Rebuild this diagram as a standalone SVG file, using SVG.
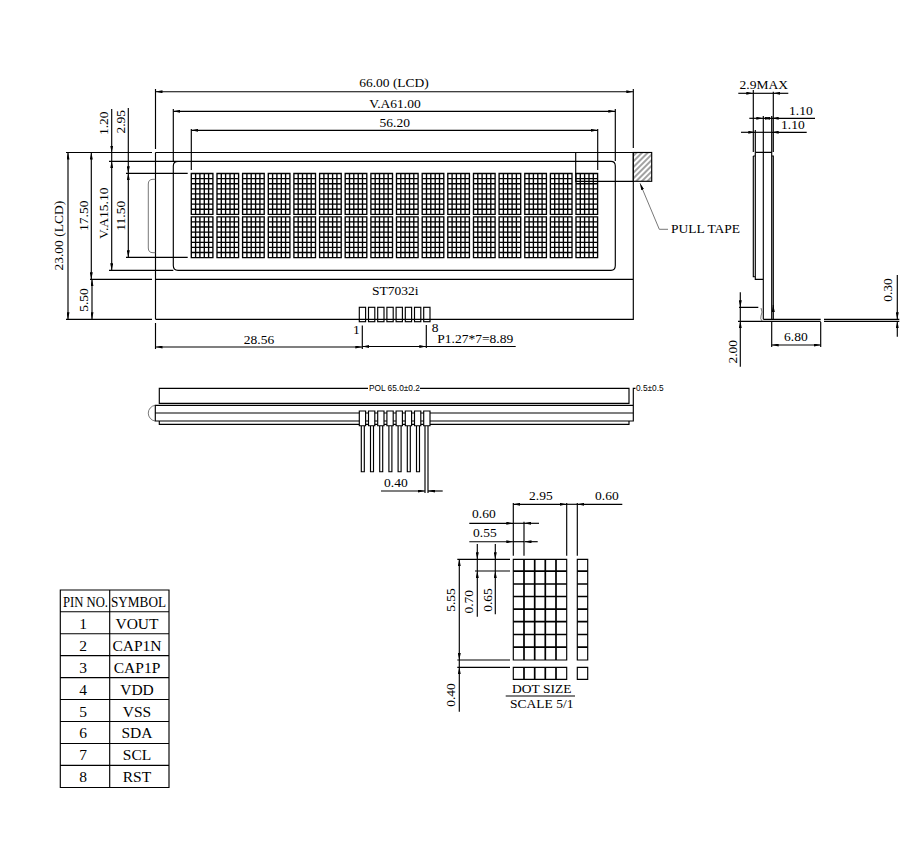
<svg xmlns="http://www.w3.org/2000/svg" xmlns:xlink="http://www.w3.org/1999/xlink" width="919" height="846" viewBox="0 0 919 846">
<style>
text{font-family:"Liberation Serif","Times New Roman",serif;font-size:13.5px;fill:#000}
.m{text-anchor:middle}
.s{font-family:"Liberation Sans",Arial,sans-serif;font-size:8.3px}
.t{font-size:15.5px;text-anchor:middle}
.h{font-size:14px}
line,path,rect{fill:none;stroke:#000;stroke-width:1.15}
.d{marker-end:url(#a);marker-start:url(#a)}
.e{marker-end:url(#a)}
.g{stroke:#555;stroke-width:.8}
.b{stroke-width:1.7}
.c{stroke-width:1.35}
</style>
<defs>
<marker id="a" viewBox="0 0 7 3" refX="7" refY="1.5" markerWidth="7" markerHeight="3" orient="auto-start-reverse" markerUnits="userSpaceOnUse"><path d="M0 0L7 1.5L0 3z" style="fill:#000;stroke:none"/></marker>
<pattern id="hatch" patternUnits="userSpaceOnUse" width="4" height="4" patternTransform="rotate(-45)"><line x1="0" y1="2" x2="4" y2="2" style="stroke:#444;stroke-width:1"/></pattern>
<g id="ch"><path class="c" d="M0 0H21.6V40.8H0ZM4.3 0V40.8M8.6 0V40.8M13 0V40.8M17.3 0V40.8M0 5.1H21.6M0 10.2H21.6M0 15.3H21.6M0 20.4H21.6M0 25.5H21.6M0 30.6H21.6M0 35.7H21.6"/></g>
</defs>

<g id="front-view">
<g id="outline">
<path d="M66 152.5H152M155.5 152.5H651.7M66 319.3H152M155.5 319.3H633.3V152.5M90 279.3H152M155.5 279.3H633.3M155.5 152.5V319.3"/>
<path d="M109 161.3H611Q615.3 161.3 615.3 166V265.5Q615.3 270.3 611 270.3H178Q173.3 270.3 173.3 265.5V166Q173.3 161.3 178 161.3"/>
<path d="M109 270.3H173.3M126 173.3H187.7M126 257.3H187.7"/>
<path class="g" d="M155.5 179.3H153Q148.3 179.3 148.3 184V248Q148.3 252.7 153 252.7H155.5"/>
</g>
<g id="display-chars">
<use href="#ch" x="191.3" y="173.5"/><use href="#ch" x="217" y="173.5"/><use href="#ch" x="242.6" y="173.5"/><use href="#ch" x="268.3" y="173.5"/><use href="#ch" x="293.9" y="173.5"/><use href="#ch" x="319.6" y="173.5"/><use href="#ch" x="345.2" y="173.5"/><use href="#ch" x="370.9" y="173.5"/><use href="#ch" x="396.5" y="173.5"/><use href="#ch" x="422.2" y="173.5"/><use href="#ch" x="447.8" y="173.5"/><use href="#ch" x="473.5" y="173.5"/><use href="#ch" x="499.1" y="173.5"/><use href="#ch" x="524.8" y="173.5"/><use href="#ch" x="550.4" y="173.5"/><use href="#ch" x="576" y="173.5"/>
<use href="#ch" x="191.3" y="216.8"/><use href="#ch" x="217" y="216.8"/><use href="#ch" x="242.6" y="216.8"/><use href="#ch" x="268.3" y="216.8"/><use href="#ch" x="293.9" y="216.8"/><use href="#ch" x="319.6" y="216.8"/><use href="#ch" x="345.2" y="216.8"/><use href="#ch" x="370.9" y="216.8"/><use href="#ch" x="396.5" y="216.8"/><use href="#ch" x="422.2" y="216.8"/><use href="#ch" x="447.8" y="216.8"/><use href="#ch" x="473.5" y="216.8"/><use href="#ch" x="499.1" y="216.8"/><use href="#ch" x="524.8" y="216.8"/><use href="#ch" x="550.4" y="216.8"/><use href="#ch" x="576" y="216.8"/>
</g>
<g id="pull-tape">
<rect x="633.3" y="152.5" width="18.4" height="28.8" style="fill:url(#hatch)"/>
<path d="M575.7 152.5V181.3H633.3"/>
<path class="g" d="M659.3 229.3H668"/>
<line class="g e" x1="659.3" y1="229.3" x2="640" y2="183.3"/>
<text x="671" y="233">PULL TAPE</text>
</g>
<g id="pins-front">
<rect x="359.3" y="307.3" width="6.3" height="14.4"/><rect x="368.5" y="307.3" width="6.3" height="14.4"/><rect x="377.7" y="307.3" width="6.3" height="14.4"/><rect x="386.9" y="307.3" width="6.3" height="14.4"/><rect x="396.1" y="307.3" width="6.3" height="14.4"/><rect x="405.3" y="307.3" width="6.3" height="14.4"/><rect x="414.5" y="307.3" width="6.3" height="14.4"/><rect x="423.7" y="307.3" width="6.3" height="14.4"/>
<text x="372" y="294.5">ST7032i</text>
</g>
<g id="front-dims">
<path d="M155.5 89V149M173.3 109V161M615.3 109V161M191.3 129V170M597.7 129V170M633.3 89V148M155.5 323V349M362.3 325.6V349M426.3 325V348"/>
<line class="d" x1="155.5" y1="91.7" x2="633.3" y2="91.7"/>
<line class="d" x1="173.3" y1="111.3" x2="615.3" y2="111.3"/>
<line class="d" x1="191.3" y1="130.3" x2="597.7" y2="130.3"/>
<line class="d" x1="155.5" y1="347" x2="362.3" y2="347"/>
<line class="d" x1="362.3" y1="346.5" x2="426.3" y2="346.5"/>
<line x1="426.3" y1="346.5" x2="515.7" y2="346.5"/>
<line class="d" x1="68" y1="152.5" x2="68" y2="319.3"/>
<line class="d" x1="91.3" y1="152.5" x2="91.3" y2="279.3"/>
<line class="d" x1="92" y1="279.3" x2="92" y2="319.3"/>
<line class="e" x1="111.7" y1="109" x2="111.7" y2="152.5"/>
<line x1="111.7" y1="152.5" x2="111.7" y2="161.3"/>
<line class="d" x1="111.7" y1="161.3" x2="111.7" y2="270.3"/>
<line class="e" x1="128.3" y1="108" x2="128.3" y2="173.3"/>
<line class="d" x1="128.3" y1="173.3" x2="128.3" y2="257.3"/>
<text class="m" x="394" y="86.5">66.00 (LCD)</text>
<text class="m" x="395" y="108">V.A61.00</text>
<text class="m" x="394.7" y="127">56.20</text>
<text class="m" x="259" y="344">28.56</text>
<text x="353" y="334">1</text>
<text x="431.7" y="332">8</text>
<text x="437.3" y="343.3">P1.27*7=8.89</text>
<text class="m" transform="translate(62.7 235.7) rotate(-90)">23.00 (LCD)</text>
<text class="m" transform="translate(88 215.7) rotate(-90)">17.50</text>
<text class="m" transform="translate(88.3 300) rotate(-90)">5.50</text>
<text class="m" transform="translate(108 213.3) rotate(-90)">V.A15.10</text>
<text class="m" transform="translate(108 123.3) rotate(-90)">1.20</text>
<text class="m" transform="translate(125 121.7) rotate(-90)">2.95</text>
<text class="m" transform="translate(125 215.7) rotate(-90)">11.50</text>
</g>
</g>

<g id="side-view">
<path d="M755.3 152.3H771.7V320M755.3 152.3V279.3H763.3M763.3 152.3V319.3M753.3 156H755.3M753.3 156V276.7H755.3M771.7 156H773.3V320"/>
<path d="M763.3 319.3H820.7M824 319.3H899.3M738 321.3H820.7M824 321.3H899.3"/>
<path class="g" d="M761 308Q763 312 761 316Q760 319 762 321"/>
<path d="M753.3 90V152M773.3 91.7V152M763.3 116V152M771.7 116V152M755.3 130V152M771.7 321V347M820.7 322V347M739 307.3H758.3"/>
<line class="e" x1="738.3" y1="93.3" x2="753.3" y2="93.3"/>
<line x1="753.3" y1="93.3" x2="773.3" y2="93.3"/>
<line class="e" x1="788.3" y1="93.3" x2="773.3" y2="93.3"/>
<line class="d" x1="763.3" y1="118.3" x2="771.7" y2="118.3"/>
<line class="e" x1="815" y1="118.3" x2="771.7" y2="118.3"/>
<line class="e" x1="749.3" y1="118.3" x2="763.3" y2="118.3"/>
<line class="e" x1="741" y1="132.3" x2="755.3" y2="132.3"/>
<line class="e" x1="806.7" y1="132.3" x2="771.7" y2="132.3"/>
<line x1="755.3" y1="132.3" x2="771.7" y2="132.3"/>
<line class="e" x1="740.3" y1="292.3" x2="740.3" y2="307.3"/>
<line x1="740.3" y1="307.3" x2="740.3" y2="321.3"/>
<line class="e" x1="740.3" y1="366.7" x2="740.3" y2="321.3"/>
<line class="d" x1="771.7" y1="345" x2="820.7" y2="345"/>
<line class="e" x1="897.3" y1="275" x2="897.3" y2="319.3"/>
<line class="e" x1="897.3" y1="336.7" x2="897.3" y2="321.3"/>
<line class="e" x1="773.3" y1="311" x2="773.3" y2="305"/>
<text x="739.5" y="89">2.9MAX</text>
<text x="789" y="115">1.10</text>
<text x="781" y="129">1.10</text>
<text x="784" y="340.7">6.80</text>
<text class="m" transform="translate(892 290) rotate(-90)">0.30</text>
<text class="m" transform="translate(736.7 351.7) rotate(-90)">2.00</text>
</g>

<g id="bottom-view">
<path d="M368 388.3H159.3V403.3H629V388.3H420"/>
<path d="M155.3 405.3H633.3V421H155.3ZM155.3 413H633.3M159.3 421V424.3H629V421M633.3 405.3V388.3H635.5"/>
<path class="g" d="M155.3 405.3A7.9 7.9 0 0 0 155.3 421"/>
<text class="s" x="369" y="390.7">POL  65.0±0.2</text>
<text class="s" x="636" y="390.7">0.5±0.5</text>
<g id="pins-bottom">
<path style="fill:#fff" d="M359.3 411H365.6V425.7H359.3ZM368.5 411H374.8V425.7H368.5ZM377.7 411H384V425.7H377.7ZM386.9 411H393.2V425.7H386.9ZM396.1 411H402.4V425.7H396.1ZM405.3 411H411.6V425.7H405.3ZM414.5 411H420.8V425.7H414.5ZM423.7 411H430V425.7H423.7Z"/>
<path d="M361.3 426V471.7H364.3V426M370.5 426V471.7H373.5V426M379.7 426V471.7H382.7V426M388.9 426V471.7H391.9V426M398.1 426V471.7H401.1V426M407.3 426V471.7H410.3V426M416.5 426V471.7H419.5V426M425 426V493M428 426V493"/>
</g>
<line class="e" x1="381" y1="491" x2="425" y2="491"/>
<line class="e" x1="442.7" y1="491" x2="428" y2="491"/>
<text x="384" y="486.7">0.40</text>
</g>

<g id="dot-detail">
<path d="M513.3 559.3H566.7V660H513.3ZM513.3 667.3H566.7V679.3H513.3ZM577.3 559.3H587.7V660H577.3ZM577.3 667.3H587.7V679.3H577.3Z"/>
<path class="b" d="M524 559.3V660M534.7 559.3V660M545.3 559.3V660M556 559.3V660M524 667.3V679.3M534.7 667.3V679.3M545.3 667.3V679.3M556 667.3V679.3"/>
<path class="b" d="M513.3 571.2H566.7M513.3 584H566.7M513.3 596.5H566.7M513.3 609.2H566.7M513.3 621.7H566.7M513.3 634.5H566.7M513.3 647.2H566.7M577.3 571.2H587.7M577.3 584H587.7M577.3 596.5H587.7M577.3 609.2H587.7M577.3 621.7H587.7M577.3 634.5H587.7M577.3 647.2H587.7"/>
<path d="M513.3 503V555.7M566.7 503V555.7M577.3 503V555.7M524 521.7V555.7M457.3 559.3H510M457.3 660H510M457.3 667.3H510M475 571H510M505.7 696H575"/>
<line class="d" x1="513.3" y1="504.3" x2="566.7" y2="504.3"/>
<line x1="566.7" y1="504.3" x2="577.3" y2="504.3"/>
<line class="e" x1="622.3" y1="504.3" x2="577.3" y2="504.3"/>
<line class="e" x1="469.3" y1="523.3" x2="513.3" y2="523.3"/>
<line x1="513.3" y1="523.3" x2="524" y2="523.3"/>
<line class="e" x1="539" y1="523.3" x2="524" y2="523.3"/>
<line class="e" x1="469.3" y1="541.7" x2="513.3" y2="541.7"/>
<line x1="513.3" y1="541.7" x2="524" y2="541.7"/>
<line class="e" x1="537.7" y1="541.7" x2="524.5" y2="541.7"/>
<line class="d" x1="459.3" y1="559.3" x2="459.3" y2="660"/>
<line x1="459.3" y1="660" x2="459.3" y2="667.3"/>
<line class="e" x1="459.3" y1="711.7" x2="459.3" y2="667.3"/>
<line class="e" x1="477.3" y1="544" x2="477.3" y2="559.3"/>
<line x1="477.3" y1="559.3" x2="477.3" y2="571"/>
<line class="e" x1="477.3" y1="616.7" x2="477.3" y2="571"/>
<line class="e" x1="495.3" y1="544" x2="495.3" y2="559.3"/>
<line x1="495.3" y1="559.3" x2="495.3" y2="571"/>
<line class="e" x1="495.3" y1="614.3" x2="495.3" y2="571"/>
<text x="529" y="500">2.95</text>
<text x="595" y="500">0.60</text>
<text x="472" y="518.3">0.60</text>
<text x="473" y="536.7">0.55</text>
<text class="m" transform="translate(455.3 600) rotate(-90)">5.55</text>
<text class="m" transform="translate(455.3 695) rotate(-90)">0.40</text>
<text class="m" transform="translate(473.3 601.7) rotate(-90)">0.70</text>
<text class="m" transform="translate(491.7 600) rotate(-90)">0.65</text>
<text x="512" y="693.3">DOT SIZE</text>
<text x="510" y="708.3">SCALE 5/1</text>
</g>

<g id="pin-table">
<path d="M60.3 590H169V787.5H60.3ZM109.7 590V787.5M60.3 611.7H169M60.3 633.7H169M60.3 655.6H169M60.3 677.6H169M60.3 699.5H169M60.3 721.5H169M60.3 743.5H169M60.3 765.4H169"/>
<text class="h" x="63" y="607" textLength="45" lengthAdjust="spacingAndGlyphs">PIN NO.</text>
<text class="h" x="111" y="607" textLength="55" lengthAdjust="spacingAndGlyphs">SYMBOL</text>
<text class="t" x="83" y="629">1</text><text class="t" x="137" y="629">VOUT</text>
<text class="t" x="83" y="651">2</text><text class="t" x="137" y="651">CAP1N</text>
<text class="t" x="83" y="673">3</text><text class="t" x="137" y="673">CAP1P</text>
<text class="t" x="83" y="694.5">4</text><text class="t" x="137" y="694.5">VDD</text>
<text class="t" x="83" y="716.5">5</text><text class="t" x="137" y="716.5">VSS</text>
<text class="t" x="83" y="738">6</text><text class="t" x="137" y="738">SDA</text>
<text class="t" x="83" y="760">7</text><text class="t" x="137" y="760">SCL</text>
<text class="t" x="83" y="782">8</text><text class="t" x="137" y="782">RST</text>
</g>
</svg>
